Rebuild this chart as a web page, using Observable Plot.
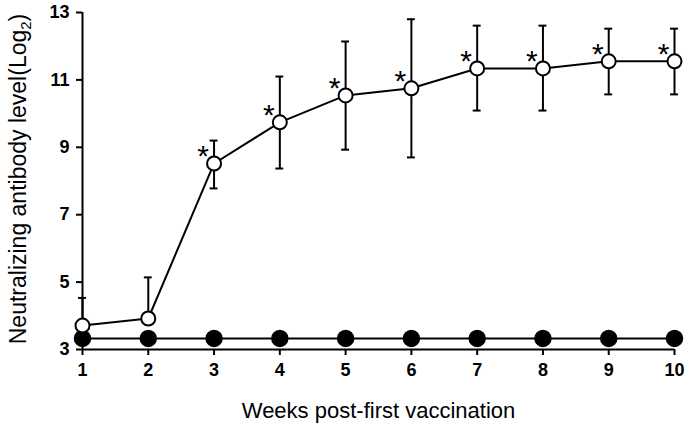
<!DOCTYPE html>
<html>
<head>
<meta charset="utf-8">
<script src="https://cdn.jsdelivr.net/npm/d3@7"></script>
<script src="https://cdn.jsdelivr.net/npm/@observablehq/plot@0.6"></script>
<style>
body { margin: 0; background: #fff; }
svg { font-family: "Liberation Sans", Arial, sans-serif; }
</style>
</head>
<body>
<div id="chart"></div>
<script>
const weeks = [1, 2, 3, 4, 5, 6, 7, 8, 9, 10];
const vaccinated = [3.71, 3.92, 8.52, 9.74, 10.54, 10.75, 11.34, 11.34, 11.55, 11.55];
const vaccinatedHigh = [4.53, 5.14, 9.2, 11.1, 12.14, 12.8, 12.61, 12.61, 12.52, 12.52];
const vaccinatedLow = [3.71, 3.92, 7.78, 8.37, 8.93, 8.7, 10.09, 10.09, 10.57, 10.57];
const control = [3.33, 3.33, 3.33, 3.33, 3.33, 3.33, 3.33, 3.33, 3.33, 3.33];
const significant = [false, false, true, true, true, true, true, true, true, true];
const yTicks = [3, 5, 7, 9, 11, 13];

const vacc = weeks.map((w, i) => ({week: w, value: vaccinated[i], lo: vaccinatedLow[i], hi: vaccinatedHigh[i], sig: significant[i]}));
const ctrl = weeks.map((w, i) => ({week: w, value: control[i]}));
const capHalf = 0.06;

const chart = Plot.plot({
  width: 685,
  height: 429,
  marginLeft: 82,
  marginRight: 11,
  marginTop: 12,
  marginBottom: 80,
  style: {fontFamily: "Liberation Sans, Arial, sans-serif", background: "white"},
  x: {domain: [1, 10]},
  y: {domain: [3, 13]},
  marks: [
    Plot.axisX({ticks: weeks, tickFormat: d => d, tickSize: 6, tickPadding: 8, fontSize: 18, fontWeight: "bold", strokeWidth: 2, label: null}),
    Plot.axisY({ticks: yTicks, tickSize: 6, tickPadding: 7, fontSize: 18, fontWeight: "bold", strokeWidth: 2, label: null}),
    Plot.text(["Weeks post-first vaccination"], {frameAnchor: "bottom", dy: 68, fontSize: 22, fill: "black"}),
    Plot.ruleY([3], {stroke: "black", strokeWidth: 2}),
    Plot.ruleX([1], {stroke: "black", strokeWidth: 2}),
    // error bars
    Plot.ruleX(vacc, {x: "week", y1: "lo", y2: "hi", stroke: "black", strokeWidth: 2}),
    Plot.ruleY(vacc.filter(d => d.hi > d.value), {y: "hi", x1: d => d.week - capHalf, x2: d => d.week + capHalf, stroke: "black", strokeWidth: 2}),
    Plot.ruleY(vacc.filter(d => d.lo < d.value), {y: "lo", x1: d => d.week - capHalf, x2: d => d.week + capHalf, stroke: "black", strokeWidth: 2}),
    Plot.line(ctrl, {x: "week", y: "value", stroke: "black", strokeWidth: 2}),
    Plot.line(vacc, {x: "week", y: "value", stroke: "black", strokeWidth: 2}),
    Plot.dot(ctrl, {x: "week", y: "value", r: 8, fill: "black", stroke: "black"}),
    Plot.dot(vacc, {x: "week", y: "value", r: 7, fill: "white", stroke: "black", strokeWidth: 2}),
    Plot.text(vacc.filter(d => d.sig), {x: "week", y: "value", text: d => "*", dx: -11, dy: -7, fontSize: 30, fill: "black"})
  ]
});

const svg = d3.select(chart);
// rotated y-axis label with subscript
const lbl = svg.append("text")
  .attr("transform", "translate(26,179) rotate(-90)")
  .attr("text-anchor", "middle")
  .attr("font-size", 23)
  .attr("fill", "black");
lbl.append("tspan").text("Neutralizing antibody level(Log");
lbl.append("tspan").attr("font-size", 15).attr("dy", 5).text("2");
lbl.append("tspan").attr("dy", -5).text(")");

document.getElementById("chart").appendChild(chart);
</script>
</body>
</html>
